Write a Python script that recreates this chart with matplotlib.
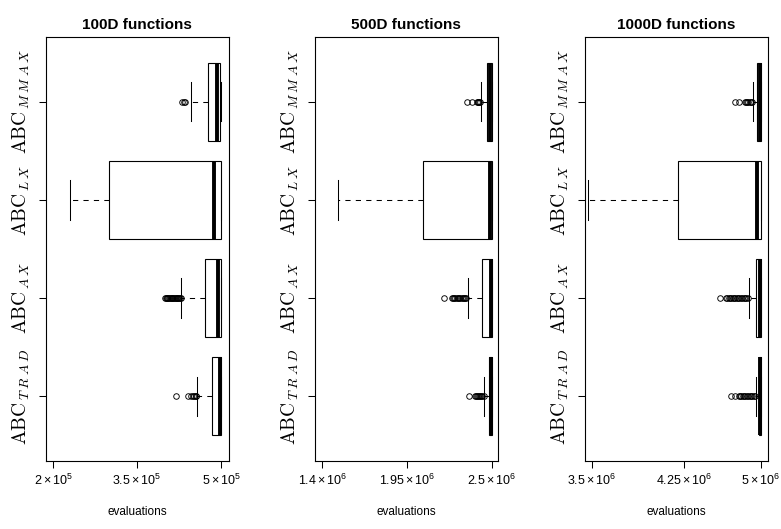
import matplotlib
matplotlib.use("Agg")
import matplotlib.pyplot as plt

plt.rcParams['font.family'] = ['Liberation Sans', 'DejaVu Sans']
plt.rcParams['mathtext.fontset'] = 'custom'
plt.rcParams['mathtext.rm'] = 'Liberation Sans'
plt.rcParams['mathtext.it'] = 'Liberation Sans:italic'
plt.rcParams['mathtext.bf'] = 'Liberation Sans:bold'

# ---------------- data ----------------
algorithms = [r'$\mathrm{ABC}_{\,T\;R\;A\;D}$', r'$\mathrm{ABC}_{\,A\;X}$',
              r'$\mathrm{ABC}_{\,L\;X}$', r'$\mathrm{ABC}_{\,M\;M\;A\;X}$']
panel_titles = ['100D functions', '500D functions', '1000D functions']

# 100D
q1_100 = [483900, 472100, 300000, 477500]
med_100 = [497600, 494600, 487500, 493200]
q3_100 = [500000, 500000, 500000, 498900]
whislo_100 = [457500, 429000, 230400, 445900]
whishi_100 = [500000, 500000, 500000, 500000]
fliers_100_trad = [419600, 441100, 447000, 449500, 452000, 454500, 456000]
fliers_100_ax = [399500, 401000, 402500, 404000, 405500, 407000, 408500, 410000, 411500, 413000,
                 414500, 416000, 417500, 419000, 420500, 422000, 423500, 425000, 426500, 428000]
fliers_100_lx = []
fliers_100_mmax = [430500, 433000, 435500]
ticks_100 = [2e5, 3.5e5, 5e5]
ticklabels_100 = [r'$2\times10^{5}$', r'$3.5\times10^{5}$', r'$5\times10^{5}$']
xlim_100 = (186960, 513750)

# 500D
q1_500 = [2482600, 2435000, 2054000, 2471500]
med_500 = [2494000, 2493000, 2489000, 2487000]
q3_500 = [2500000, 2500000, 2500000, 2500000]
whislo_500 = [2452000, 2344000, 1502000, 2430600]
whishi_500 = [2500000, 2500000, 2500000, 2500000]
fliers_500_trad = [2354600, 2391600, 2398000, 2405000, 2412000, 2419000, 2426000, 2433000, 2440000, 2447000]
fliers_500_ax = [2192000, 2240000, 2248000, 2256000, 2264000, 2272000, 2280000, 2288000, 2296000,
                 2304000, 2312000, 2320000, 2328000, 2336000]
fliers_500_lx = []
fliers_500_mmax = [2337600, 2374400, 2402600, 2408000, 2414000, 2420000, 2426000]
ticks_500 = [1.4e6, 1.95e6, 2.5e6]
ticklabels_500 = [r'$1.4\times10^{6}$', r'$1.95\times10^{6}$', r'$2.5\times10^{6}$']
xlim_500 = (1352600, 2539000)

# 1000D
q1_1000 = [4979000, 4956000, 4263000, 4965000]
med_1000 = [4993000, 4990000, 4967000, 4990000]
q3_1000 = [5000000, 5000000, 5000000, 5000000]
whislo_1000 = [4953000, 4891000, 3465000, 4926000]
whishi_1000 = [5000000, 5000000, 5000000, 5000000]
fliers_1000_trad = [4731000, 4769000, 4805000, 4814000, 4826000, 4838000, 4850000, 4862000, 4874000,
                    4886000, 4898000, 4910000, 4922000, 4934000, 4945000]
fliers_1000_ax = [4636000, 4689000, 4701000, 4713000, 4725000, 4737000, 4749000, 4761000, 4773000,
                  4785000, 4797000, 4809000, 4821000, 4833000, 4845000, 4857000, 4869000, 4881000]
fliers_1000_lx = []
fliers_1000_mmax = [4769000, 4805000, 4858000, 4868000, 4878000, 4888000, 4898000, 4908000, 4918000]
ticks_1000 = [3.5e6, 4.32e6, 5e6]
ticklabels_1000 = [r'$3.5\times10^{6}$', r'$4.25\times10^{6}$', r'$5\times10^{6}$']
xlim_1000 = (3437900, 5059500)

panels = [
    (q1_100, med_100, q3_100, whislo_100, whishi_100,
     [fliers_100_trad, fliers_100_ax, fliers_100_lx, fliers_100_mmax], ticks_100, ticklabels_100, xlim_100),
    (q1_500, med_500, q3_500, whislo_500, whishi_500,
     [fliers_500_trad, fliers_500_ax, fliers_500_lx, fliers_500_mmax], ticks_500, ticklabels_500, xlim_500),
    (q1_1000, med_1000, q3_1000, whislo_1000, whishi_1000,
     [fliers_1000_trad, fliers_1000_ax, fliers_1000_lx, fliers_1000_mmax], ticks_1000, ticklabels_1000, xlim_1000),
]

# ---------------- figure ----------------
fig = plt.figure(figsize=(7.81, 5.29), dpi=100)
lefts = [46 / 781, 315 / 781, 585 / 781]
width = 182.7 / 781
bottom = (529 - 461) / 529
height = 424 / 529

positions = [1, 2, 3, 4]

for i, (q1, med, q3, wlo, whi, fl, ticks, tlabels, xlim) in enumerate(panels):
    ax = fig.add_axes([lefts[i], bottom, width, height])
    stats = []
    for k in range(4):
        stats.append(dict(q1=q1[k], med=med[k], q3=q3[k], whislo=wlo[k], whishi=whi[k], fliers=fl[k]))
    kw = dict(positions=positions, widths=0.8, capwidths=0.4, patch_artist=True,
              boxprops=dict(facecolor='white', edgecolor='black', linewidth=0.8),
              medianprops=dict(color='black', linewidth=2.8, solid_capstyle='butt'),
              whiskerprops=dict(color='black', linewidth=0.75, linestyle=(0, (5, 5))),
              capprops=dict(color='black', linewidth=0.75),
              flierprops=dict(marker='o', markerfacecolor='none', markeredgecolor='black',
                              markersize=4.0, markeredgewidth=0.65))
    try:
        ax.bxp(stats, orientation='horizontal', **kw)
    except TypeError:
        ax.bxp(stats, vert=False, **kw)

    ax.set_xlim(*xlim)
    ax.set_ylim(0.34, 4.66)
    ax.set_xticks(ticks)
    ax.set_xticklabels(tlabels, fontsize=9)
    ax.set_yticks(positions)
    ax.set_yticklabels(algorithms, rotation=90, va='center', fontsize=14, math_fontfamily='cm')
    ax.tick_params(axis='both', direction='out', length=5.3, width=0.75, color='black')
    ax.tick_params(axis='x', pad=3)
    ax.tick_params(axis='y', pad=5)
    for s in ax.spines.values():
        s.set_linewidth(0.8)
        s.set_color('black')
    ax.set_title(panel_titles[i], fontsize=11, fontweight='bold', pad=5.5)
    ax.set_xlabel('evaluations', fontsize=8.5, labelpad=13)

fig.savefig('out.png', dpi=100)
